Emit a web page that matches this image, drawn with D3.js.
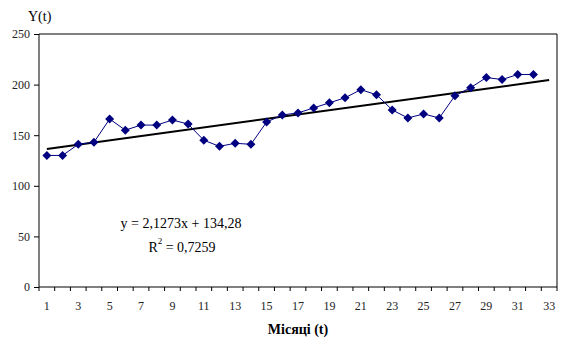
<!DOCTYPE html>
<html>
<head>
<meta charset="utf-8">
<script src="https://cdn.jsdelivr.net/npm/d3@7"></script>
<style>
  body { margin: 0; background: #fff; }
  svg text { font-family: "Liberation Serif", "DejaVu Serif", serif !important; }
</style>
</head>
<body>
<div id="chart"></div>
<script>
var svgWidth = 581;
var svgHeight = 354;

var margin = { top: 34, right: 24, bottom: 67, left: 39 };
var width = svgWidth - margin.left - margin.right;
var height = svgHeight - margin.top - margin.bottom;

// months 1..33 (33 is the forecast slot for the trend line)
var months = d3.range(1, 34);
// observed values Y(t), t = 1..32
var values = [130, 130, 141, 143, 166, 155, 160, 160, 165, 161,
              145, 139, 142, 141, 163, 170, 172, 177, 182, 187,
              195, 190, 175, 167, 171, 167, 189, 197, 207, 205,
              210, 210];
var yTicks = [0, 50, 100, 150, 200, 250];
// trend coefficients as printed on the chart
var slope = 2.1273;
var intercept = 134.28;
var eqLabel = "y = 2,1273x + 134,28";
var r2Label = "0,7259";

var serif = "'Liberation Serif', 'DejaVu Serif', serif";

var svg = d3.select("#chart")
  .append("svg")
  .attr("width", svgWidth)
  .attr("height", svgHeight)
  .attr("font-family", serif);

var chartGroup = svg.append("g")
  .attr("transform", `translate(${margin.left}, ${margin.top})`);

var xScale = d3.scaleBand()
  .domain(months)
  .range([0, width]);

var xPos = d => xScale(d) + xScale.bandwidth() / 2;

var yScale = d3.scaleLinear()
  .domain([0, 250])
  .range([height, 0]);

// plot frame (top and right)
chartGroup.append("path")
  .attr("d", `M0,0H${width}V${height}`)
  .attr("fill", "none")
  .attr("stroke", "#000")
  .attr("stroke-width", 1);

// y axis
var leftAxis = d3.axisLeft(yScale).tickValues(yTicks).tickSize(5).tickPadding(4);
var yAxis = chartGroup.append("g").call(leftAxis)
  .attr("font-family", serif)
  .attr("font-size", 12);
yAxis.select(".domain").attr("d", `M0,0V${height}`);
yAxis.selectAll("text").attr("fill", "#222");

// x axis, ticks on category boundaries
var xAxis = chartGroup.append("g").attr("transform", `translate(0, ${height})`);
xAxis.append("line")
  .attr("x1", 0).attr("x2", width)
  .attr("stroke", "#000");
xAxis.selectAll(".tk")
  .data(months.concat([34]))
  .enter()
  .append("line")
  .attr("x1", (d, i) => i * xScale.step())
  .attr("x2", (d, i) => i * xScale.step())
  .attr("y1", 0).attr("y2", 4)
  .attr("stroke", "#000");
xAxis.selectAll(".lb")
  .data(months.filter(d => d % 2 === 1))
  .enter()
  .append("text")
  .attr("x", d => xPos(d))
  .attr("y", 23)
  .attr("text-anchor", "middle")
  .attr("font-size", 12)
  .attr("fill", "#222")
  .text(d => d);

// trend line
var trendLine = d3.line()
  .x(d => xPos(d))
  .y(d => yScale(slope * d + intercept));

chartGroup.append("path")
  .datum([months[0], months[months.length - 1]])
  .attr("d", trendLine)
  .attr("fill", "none")
  .attr("stroke", "#000")
  .attr("stroke-width", 2);

// data line
var dataLine = d3.line()
  .x((d, i) => xPos(months[i]))
  .y(d => yScale(d));

chartGroup.append("path")
  .datum(values)
  .attr("d", dataLine)
  .attr("fill", "none")
  .attr("stroke", "#000080")
  .attr("stroke-width", 1);

// diamond markers
chartGroup.selectAll(".pt")
  .data(values)
  .enter()
  .append("path")
  .attr("d", "M0,-4.5L4.5,0L0,4.5L-4.5,0Z")
  .attr("transform", (d, i) => `translate(${xPos(months[i])}, ${yScale(d)})`)
  .attr("fill", "#000080");

// equation
chartGroup.append("text")
  .attr("x", 142)
  .attr("y", 194)
  .attr("text-anchor", "middle")
  .attr("font-size", 14)
  .text(eqLabel);

var r2 = chartGroup.append("text")
  .attr("x", 143)
  .attr("y", 218)
  .attr("text-anchor", "middle")
  .attr("font-size", 14);
r2.append("tspan").text("R");
r2.append("tspan").attr("dy", -8).attr("font-size", 9).text("2");
r2.append("tspan").attr("dy", 8).text(" = " + r2Label);

// axis titles
svg.append("text")
  .attr("x", 28)
  .attr("y", 21)
  .attr("font-size", 14)
  .text("Y(t)");

svg.append("text")
  .attr("x", margin.left + width / 2)
  .attr("y", 334)
  .attr("text-anchor", "middle")
  .attr("font-size", 14)
  .attr("font-weight", "bold")
  .text("Місяці (t)");
</script>
</body>
</html>
